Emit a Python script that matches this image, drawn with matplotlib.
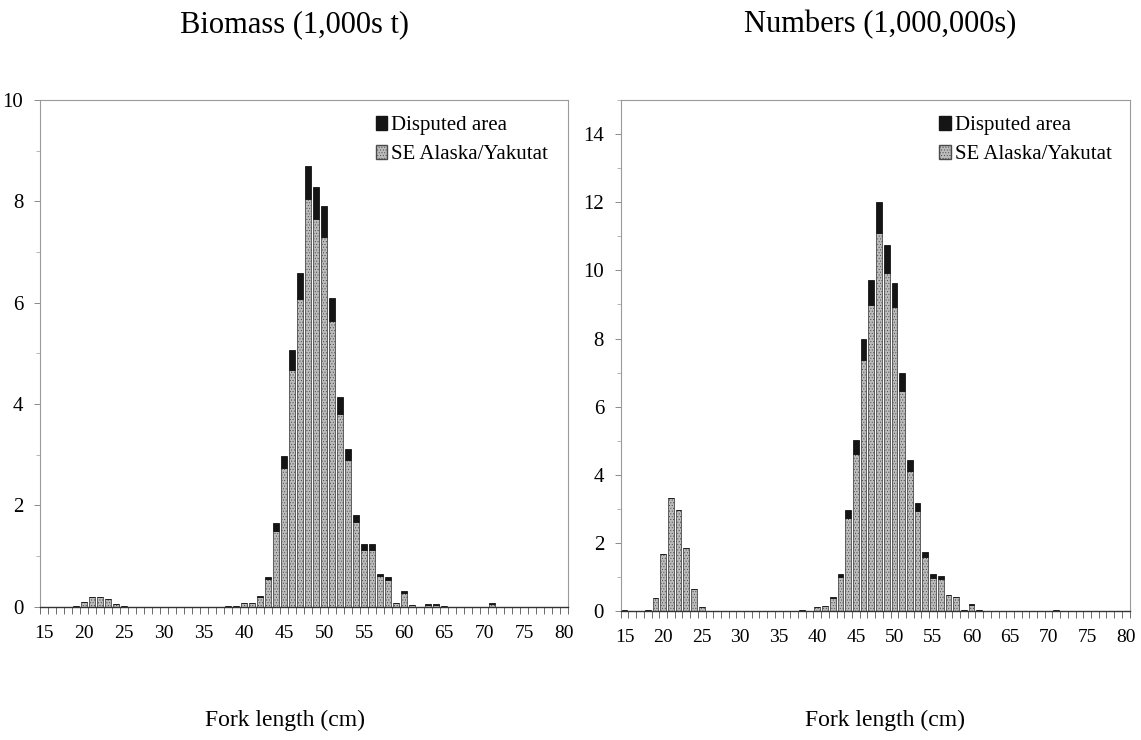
import matplotlib.pyplot as plt
from matplotlib.patches import Patch
from matplotlib.ticker import MultipleLocator
import numpy as np

plt.rcParams['font.family'] = ['Liberation Serif', 'DejaVu Serif']
plt.rcParams['hatch.linewidth'] = 0.4
plt.rcParams['hatch.color'] = '#707070'

# fork length classes (cm)
lengths = np.arange(15, 81)

# biomass, 1,000s t : total bar height and the SE Alaska/Yakutat part
bio_total = [0, 0, 0, 0, 0.02, 0.09, 0.2, 0.2, 0.15, 0.06,
             0.02, 0, 0, 0, 0, 0, 0, 0, 0, 0,
             0, 0, 0, 0.01, 0.01, 0.07, 0.07, 0.21, 0.58, 1.65,
             2.98, 5.07, 6.58, 8.69, 8.28, 7.91, 6.1, 4.13, 3.12, 1.82,
             1.23, 1.23, 0.65, 0.58, 0.08, 0.32, 0.03, 0, 0.05, 0.05,
             0.01, 0, 0, 0, 0, 0, 0.07, 0, 0, 0,
             0, 0, 0, 0, 0, 0]
bio_se = [0, 0, 0, 0, 0.02, 0.09, 0.2, 0.2, 0.15, 0.06,
          0.02, 0, 0, 0, 0, 0, 0, 0, 0, 0,
          0, 0, 0, 0.01, 0.01, 0.07, 0.07, 0.19, 0.55, 1.5,
          2.74, 4.68, 6.08, 8.04, 7.65, 7.3, 5.63, 3.81, 2.9, 1.67,
          1.12, 1.12, 0.6, 0.53, 0.07, 0.27, 0.03, 0, 0.04, 0.04,
          0.01, 0, 0, 0, 0, 0, 0.06, 0, 0, 0,
          0, 0, 0, 0, 0, 0]

# numbers, 1,000,000s
num_total = [0.03, 0, 0.02, 0.04, 0.38, 1.67, 3.33, 2.98, 1.86, 0.64,
             0.12, 0.02, 0, 0, 0, 0, 0, 0, 0, 0,
             0, 0, 0.01, 0.03, 0.02, 0.13, 0.15, 0.41, 1.1, 2.98,
             5.01, 7.98, 9.72, 12.01, 10.75, 9.63, 7.0, 4.45, 3.17, 1.74,
             1.08, 1.02, 0.49, 0.43, 0.05, 0.2, 0.03, 0, 0.02, 0.02,
             0, 0, 0, 0, 0, 0, 0.03, 0, 0, 0,
             0, 0, 0, 0, 0, 0]
num_se = [0.03, 0, 0.02, 0.04, 0.38, 1.67, 3.33, 2.98, 1.86, 0.64,
          0.12, 0.02, 0, 0, 0, 0, 0, 0, 0, 0,
          0, 0, 0.01, 0.03, 0.02, 0.13, 0.15, 0.4, 1.01, 2.74,
          4.61, 7.38, 8.98, 11.1, 9.93, 8.92, 6.47, 4.12, 2.93, 1.59,
          0.98, 0.94, 0.47, 0.41, 0.05, 0.18, 0.03, 0, 0.02, 0.02,
          0, 0, 0, 0, 0, 0, 0.03, 0, 0, 0,
          0, 0, 0, 0, 0, 0]

panel_titles = ['Biomass (1,000s t)', 'Numbers (1,000,000s)']
xtick_labels = [str(v) for v in range(15, 81, 5)]

fig = plt.figure(figsize=(11.41, 7.4), dpi=100)
ax1 = fig.add_axes([0.035, 0.18, 0.463, 0.685])
ax2 = fig.add_axes([0.544, 0.174, 0.446, 0.691])

gray = '#bcbcbc'
edge = '#4a4a4a'


def draw_panel(ax, total, se, ymax, legend_x):
    total = np.array(total)
    se = np.array(se)
    disputed = total - se
    ax.bar(lengths, se, width=0.75, color=gray, edgecolor=edge,
           linewidth=0.6, hatch='......')
    ax.bar(lengths, disputed, bottom=se, width=0.75, color='#151515',
           edgecolor='#151515', linewidth=0.6)
    ax.set_xlim(14.5, 80.5)
    ax.set_ylim(0, ymax)
    ax.set_xticks(range(15, 81, 5))
    ax.set_xticklabels(xtick_labels)
    ax.set_xticks(np.arange(14.5, 81, 1), minor=True)
    ax.tick_params(axis='x', which='major', length=0, labelsize=14, pad=13)
    ax.tick_params(axis='x', which='minor', length=5, width=0.6, color='#555')
    ax.yaxis.set_major_locator(MultipleLocator(2))
    ax.yaxis.set_minor_locator(MultipleLocator(1))
    ax.tick_params(axis='y', which='major', length=4, width=0.6,
                   color='#777', labelsize=15, pad=8)
    ax.tick_params(axis='y', which='minor', length=3, width=0.5, color='#999')
    for side in ['top', 'right', 'left']:
        ax.spines[side].set_color('#9a9a9a')
        ax.spines[side].set_linewidth(0.8)
    ax.spines['bottom'].set_color('#333')
    ax.spines['bottom'].set_linewidth(1.0)
    handles = [Patch(facecolor='#151515', edgecolor='#151515'),
               Patch(facecolor=gray, edgecolor=edge, hatch='......')]
    ax.legend(handles, ['Disputed area', 'SE Alaska/Yakutat'],
              loc='upper left', bbox_to_anchor=(legend_x, 0.985),
              frameon=False, fontsize=15, handlelength=0.55,
              handleheight=0.7, handletextpad=0.2, labelspacing=0.45,
              borderaxespad=0)


draw_panel(ax1, bio_total, bio_se, 10, 0.62)
draw_panel(ax2, num_total, num_se, 15, 0.61)

fig.text(295 / 1141, 1 - 25 / 740, panel_titles[0], ha='center',
         va='center', fontsize=22)
fig.text(880 / 1141, 1 - 25 / 740, panel_titles[1], ha='center',
         va='center', fontsize=22)
fig.text(285 / 1141, 1 - 720 / 740, 'Fork length (cm)', ha='center',
         va='center', fontsize=17)
fig.text(885 / 1141, 1 - 720 / 740, 'Fork length (cm)', ha='center',
         va='center', fontsize=17)

fig.savefig('out.png', dpi=100)
